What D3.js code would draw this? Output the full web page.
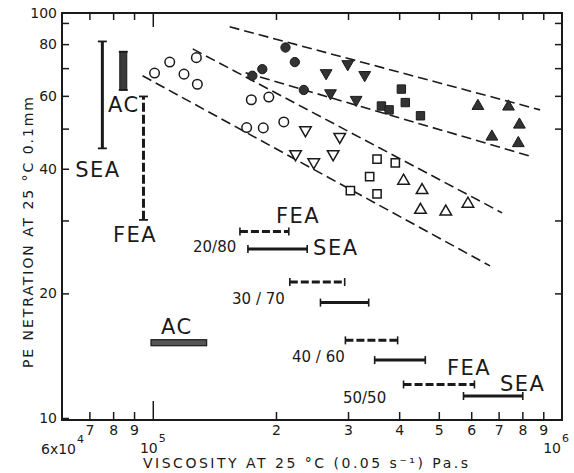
<!DOCTYPE html>
<html>
<head>
<meta charset="utf-8">
<script src="https://cdn.jsdelivr.net/npm/d3@7"></script>
<style>
  body { margin: 0; background: #fff; }
  text { font-family: "DejaVu Sans", sans-serif; fill: #1a1a1a; }
</style>
</head>
<body>
<div id="svg-area"></div>
<script>
var svgWidth = 574;
var svgHeight = 473;

// points: [viscosity at 25C (Pa.s), penetration at 25C (0.1mm)]
var openCircles = [[101000, 68.1], [110000, 72.4], [119200, 67.7], [127800, 74.2], [128500, 64.0],
                   [174100, 58.7], [192100, 59.6], [169600, 50.3], [186200, 50.2], [209000, 51.9]];
var filledCircles = [[175100, 67.1], [185200, 69.6], [211000, 78.5], [222400, 72.4], [233900, 62.0]];
var filledDown = [[265200, 68.1], [299500, 71.6], [329500, 67.4], [271800, 60.9], [314000, 58.7]];
var filledSquares = [[405000, 62.3], [414000, 57.8], [362000, 56.7], [378000, 55.5], [451000, 53.7]];
var filledUp = [[623000, 56.7], [740000, 56.5], [787000, 51.1], [674000, 47.8], [782000, 46.1]];
var openDown = [[236100, 49.6], [286300, 47.8], [223300, 43.4], [247400, 41.5], [275900, 43.4]];
var openSquares = [[353200, 42.2], [391400, 41.3], [338800, 38.3], [304000, 35.4], [353200, 34.8]];
var openUp = [[410000, 37.4], [455000, 35.5], [451000, 31.8], [520000, 31.5], [589000, 32.9]];

// dashed band lines, two end points each
var trendLines = [
  [[154100, 88.1], [884000, 55.5]],
  [[168600, 68.2], [850000, 42.7]],
  [[125200, 77.9], [714000, 31.3]],
  [[94400, 67.1], [667000, 23.3]]
];

// pure binders (vertical = penetration range, AC also viscosity range)
var binders = ["SEA", "AC", "FEA"];
var binderVisc = [75300, 84700, 94900];
var binderPen = [[44.8, 81.2], [62.0, 76.7], [30.1, 59.8]];
var acViscRange = [99000, 135400];
var acViscPen = 15.2;

// blends: viscosity ranges for FEA and SEA
var blendRatios = ["20/80", "30 / 70", "40 / 60", "50/50"];
var feaRange = [[163300, 215000], [216200, 294400], [295600, 396600], [410000, 611000]];
var feaPen = [28.2, 21.3, 15.4, 12.05];
var seaRange = [[170800, 238400], [256900, 337000], [348500, 463400], [574500, 802000]];
var seaPen = [25.6, 19.0, 13.8, 11.3];

// text annotations: [text, viscosity, penetration]
var bigLabels = [["SEA", 64600, 38.2], ["AC", 77700, 54.8], ["FEA", 79900, 26.6], ["AC", 104700, 15.96],
                 ["FEA", 200000, 29.6], ["SEA", 246400, 24.8], ["FEA", 523600, 12.7], ["SEA", 705600, 11.62]];
var ratioPos = [[125400, 25.2], [156200, 18.86], [218900, 13.66], [291600, 10.87]];

// ticks
var xTicks = [7e4, 8e4, 9e4, 1e5, 2e5, 3e5, 4e5, 5e5, 6e5, 7e5, 8e5, 9e5];
var xTickLabels = ["7", "8", "9", "", "2", "3", "4", "5", "6", "7", "8", "9"];
var yTicks = [10, 20, 30, 40, 50, 60, 70, 80, 90];
var yRightTicks = [20, 30, 50, 60, 70, 80, 90];
var yTickLabels = [10, 20, 40, 60, 80];

var plotLeft = 62, plotRight = 562, plotTop = 13, plotBottom = 420;

var svg = d3.select("#svg-area")
  .append("svg")
  .attr("width", svgWidth)
  .attr("height", svgHeight);

var x = d3.scaleLog().domain([6e4, 1e6]).range([plotLeft, plotRight]);
var y = d3.scaleLog().domain([10, 100]).range([418, 4]);

var ink = "#1a1a1a";

// axes
function styleAxis(g) {
  g.select(".domain").remove();
  g.selectAll(".tick line").attr("stroke", ink).attr("stroke-width", 1.5);
  g.selectAll(".tick text").attr("font-family", "DejaVu Sans").attr("font-size", 14).attr("fill", ink);
}

svg.append("g")
  .attr("transform", "translate(0," + plotBottom + ")")
  .call(d3.axisBottom(x).tickValues(xTicks).tickSize(-8).tickSizeOuter(0).tickPadding(5)
    .tickFormat(function(d, i) { return xTickLabels[i]; }))
  .call(styleAxis)
  .selectAll(".tick").filter(function(d) { return d === 1e5; })
  .select("line").attr("y2", -19);

svg.append("g")
  .attr("transform", "translate(0," + plotTop + ")")
  .call(d3.axisTop(x).tickValues(xTicks).tickSize(-7).tickSizeOuter(0).tickFormat(""))
  .call(styleAxis)
  .selectAll(".tick").filter(function(d) { return d === 1e5; })
  .select("line").attr("y2", 14);

svg.append("g")
  .attr("transform", "translate(" + plotLeft + ",0)")
  .call(d3.axisLeft(y).tickValues(yTicks).tickSize(-7).tickSizeOuter(0).tickPadding(5)
    .tickFormat(function(d) { return yTickLabels.indexOf(d) >= 0 ? d : ""; }))
  .call(styleAxis);

svg.append("g")
  .attr("transform", "translate(" + plotRight + ",0)")
  .call(d3.axisRight(y).tickValues(yRightTicks).tickSize(-7).tickSizeOuter(0).tickFormat(""))
  .call(styleAxis);

svg.append("text")
  .attr("x", plotLeft - 5).attr("y", plotTop + 5)
  .attr("text-anchor", "end").attr("font-size", 14)
  .text("100");

svg.append("rect")
  .attr("x", plotLeft).attr("y", plotTop)
  .attr("width", plotRight - plotLeft).attr("height", plotBottom - plotTop)
  .attr("fill", "none").attr("stroke", ink).attr("stroke-width", 2);

// power of ten labels
var powLabels = [["6x10", "4", 6e4, 14, 454], ["10", "5", 1e5, 5, 453], ["10", "6", 1e6, -1, 453]];
powLabels.forEach(function(p) {
  svg.append("text")
    .attr("x", x(p[2]) + p[3]).attr("y", p[4])
    .attr("text-anchor", "end").attr("font-size", 14)
    .text(p[0]);
  svg.append("text")
    .attr("x", x(p[2]) + p[3] + 1).attr("y", p[4] - 11)
    .attr("font-size", 11).text(p[1]);
});

// axis titles
svg.append("text")
  .attr("x", 143).attr("y", 468)
  .attr("font-size", 14)
  .attr("textLength", 325).attr("lengthAdjust", "spacing")
  .text("VISCOSITY  AT  25 °C  (0.05 s⁻¹)  Pa.s");

svg.append("text")
  .attr("transform", "translate(33,368) rotate(-90)")
  .attr("font-size", 14)
  .attr("textLength", 271).attr("lengthAdjust", "spacing")
  .text("PE NETRATION  AT  25 °C    0.1mm");

// dashed band lines
var lineGenerator = d3.line()
  .x(function(d) { return x(d[0]); })
  .y(function(d) { return y(d[1]); });

svg.selectAll(".band")
  .data(trendLines)
  .enter().append("path")
  .attr("class", "band")
  .attr("d", lineGenerator)
  .attr("fill", "none")
  .attr("stroke", ink)
  .attr("stroke-width", 1.6)
  .attr("stroke-dasharray", "10,5");

// markers
function drawPoints(data, type, size, filled, rotate) {
  svg.append("g").selectAll("path")
    .data(data)
    .enter().append("path")
    .attr("d", d3.symbol().type(type).size(size))
    .attr("transform", function(d) {
      return "translate(" + x(d[0]) + "," + y(d[1]) + ")" + (rotate ? " rotate(180)" : "");
    })
    .attr("fill", filled ? "#333" : "#fff")
    .attr("stroke", ink)
    .attr("stroke-width", filled ? 1 : 1.5);
}

drawPoints(openCircles, d3.symbolCircle, 72, false, false);
drawPoints(filledCircles, d3.symbolCircle, 68, true, false);
drawPoints(filledDown, d3.symbolTriangle, 60, true, true);
drawPoints(filledSquares, d3.symbolSquare, 70, true, false);
drawPoints(filledUp, d3.symbolTriangle, 60, true, false);
drawPoints(openDown, d3.symbolTriangle, 58, false, true);
drawPoints(openSquares, d3.symbolSquare, 68, false, false);
drawPoints(openUp, d3.symbolTriangle, 58, false, false);

// range bars
function hBar(x0, x1, pen, dashed) {
  var yy = y(pen);
  svg.append("line")
    .attr("x1", x(x0)).attr("x2", x(x1)).attr("y1", yy).attr("y2", yy)
    .attr("stroke", ink).attr("stroke-width", 3)
    .attr("stroke-dasharray", dashed ? "8,3" : null);
  [x0, x1].forEach(function(v) {
    svg.append("line")
      .attr("x1", x(v)).attr("x2", x(v)).attr("y1", yy - 4).attr("y2", yy + 4)
      .attr("stroke", ink).attr("stroke-width", 1.6);
  });
}

function vBar(visc, pens, style) {
  var xx = x(visc);
  if (style === "thick") {
    svg.append("rect")
      .attr("x", xx - 3.5).attr("y", y(pens[1]))
      .attr("width", 7).attr("height", y(pens[0]) - y(pens[1]))
      .attr("fill", "#3a3a3a").attr("stroke", ink).attr("stroke-width", 1);
  } else {
    svg.append("line")
      .attr("x1", xx).attr("x2", xx).attr("y1", y(pens[0])).attr("y2", y(pens[1]))
      .attr("stroke", ink).attr("stroke-width", 3)
      .attr("stroke-dasharray", style === "dashed" ? "9,3" : null);
  }
  pens.forEach(function(v) {
    svg.append("line")
      .attr("x1", xx - 4.5).attr("x2", xx + 4.5).attr("y1", y(v)).attr("y2", y(v))
      .attr("stroke", ink).attr("stroke-width", 1.8);
  });
}

var binderStyle = { SEA: "solid", AC: "thick", FEA: "dashed" };
binders.forEach(function(b, i) { vBar(binderVisc[i], binderPen[i], binderStyle[b]); });

svg.append("rect")
  .attr("x", x(acViscRange[0])).attr("y", y(acViscPen) - 3)
  .attr("width", x(acViscRange[1]) - x(acViscRange[0])).attr("height", 6)
  .attr("fill", "#555").attr("stroke", ink).attr("stroke-width", 1.2);

blendRatios.forEach(function(r, i) {
  hBar(feaRange[i][0], feaRange[i][1], feaPen[i], true);
  hBar(seaRange[i][0], seaRange[i][1], seaPen[i], false);
  svg.append("text")
    .attr("x", x(ratioPos[i][0])).attr("y", y(ratioPos[i][1]))
    .attr("font-size", 15)
    .text(r);
});

svg.selectAll(".big")
  .data(bigLabels)
  .enter().append("text")
  .attr("class", "big")
  .attr("x", function(d) { return x(d[1]); })
  .attr("y", function(d) { return y(d[2]); })
  .attr("font-size", 21)
  .attr("letter-spacing", 1.5)
  .text(function(d) { return d[0]; });
</script>
</body>
</html>
